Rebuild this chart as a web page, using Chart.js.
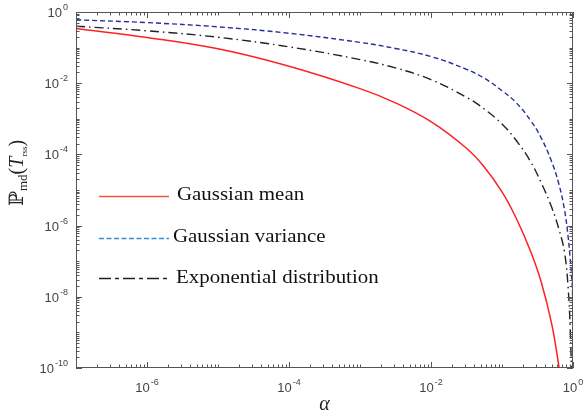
<!DOCTYPE html>
<html>
<head>
<meta charset="utf-8">
<script src="https://cdn.jsdelivr.net/npm/chart.js@4.4.1/dist/chart.umd.min.js"></script>
<style>
  body { margin: 0; background: #fff; }
  #wrap { width: 583px; height: 414px; }
</style>
</head>
<body>
<div id="wrap"><canvas id="chart"></canvas></div>
<script>
"use strict";

// data (alpha on x, P_md on y)
const alphaMean = [1e-7, 1e-6, 1e-5, 1e-4, 1e-3, 3.16e-3, 1e-2, 3.16e-2, 5.62e-2, 0.1, 0.158, 0.251, 0.355, 0.501, 0.631, 0.759];
const pMean = [0.344, 0.193, 0.0923, 0.0299, 7.05e-3, 2.81e-3, 8.32e-4, 1.49e-4, 4.45e-5, 8.87e-6, 1.64e-6, 1.97e-7, 2.69e-8, 1.73e-9, 1.14e-10, 7.1e-12];

const alphaVar = [1e-7, 1e-6, 1e-5, 1e-4, 1e-3, 3.16e-3, 1e-2, 3.16e-2, 5.62e-2, 0.1, 0.158, 0.251, 0.355, 0.501, 0.631, 0.759, 0.851, 0.912, 0.955, 0.983, 1];
const pVar = [0.604, 0.503, 0.383, 0.253, 0.14, 0.0946, 0.056, 0.0246, 0.0138, 6.15e-3, 2.85e-3, 9.16e-4, 2.95e-4, 6.24e-5, 1.5e-5, 2.78e-6, 5.16e-7, 1.24e-7, 3.87e-8, 1.37e-8, 4.6e-11];

const alphaExp = [1e-7, 1e-6, 1e-5, 1e-4, 1e-3, 3.16e-3, 1e-2, 3.16e-2, 5.62e-2, 0.1, 0.158, 0.251, 0.355, 0.501, 0.631, 0.759, 0.851, 0.912, 0.955];
const pExp = [0.399, 0.296, 0.195, 0.105, 0.0461, 0.0269, 0.0126, 4.01e-3, 1.89e-3, 7.11e-4, 2.49e-4, 6.44e-5, 1.63e-5, 3.27e-6, 8.13e-7, 1.8e-7, 2.0e-8, 1.4e-9, 6.35e-11];

const seriesNames = ['Gaussian mean', 'Gaussian variance', 'Exponential distribution'];

// labelled decades
const xTickExps = [-6, -4, -2, 0];
const yTickExps = [-10, -8, -6, -4, -2, 0];

const toPoints = (xs, ys) => xs.map((x, i) => ({ x: x, y: ys[i] }));

const SERIF = '"Liberation Serif", "Times New Roman", "DejaVu Serif", serif';
const SANS = '"Liberation Sans", Arial, sans-serif';

// draws "10" with a raised exponent
function powLabel(ctx, exp, x, y, align) {
  ctx.font = '13px ' + SANS;
  const wb = ctx.measureText('10').width;
  ctx.font = '9px ' + SANS;
  const e = String(exp);
  const we = ctx.measureText(e).width;
  const total = wb + we + 1;
  const x0 = align === 'right' ? x - total : x - total / 2;
  ctx.textAlign = 'left';
  ctx.textBaseline = 'alphabetic';
  ctx.font = '13px ' + SANS;
  ctx.fillText('10', x0, y);
  ctx.font = '9px ' + SANS;
  ctx.fillText(e, x0 + wb + 1, y - 7);
}

const axesPlugin = {
  id: 'matlabAxes',
  afterDraw(chart) {
    const ctx = chart.ctx;
    const a = chart.chartArea;
    const xs = chart.scales.x, ys = chart.scales.y;
    ctx.save();

    // box
    ctx.strokeStyle = '#555';
    ctx.lineWidth = 1;
    ctx.strokeRect(a.left + 0.5, a.top + 0.5, a.right - a.left - 1, a.bottom - a.top - 1);

    // ticks, inward on all four sides
    ctx.beginPath();
    for (let n = -7; n <= 0; n++) {
      for (let k = 1; k <= 9; k++) {
        const v = k * Math.pow(10, n);
        if (v > 1.0001) continue;
        const len = (k === 1 && xTickExps.includes(n)) ? 6 : 3.5;
        const px = Math.round(xs.getPixelForValue(v)) + 0.5;
        ctx.moveTo(px, a.bottom); ctx.lineTo(px, a.bottom - len);
        ctx.moveTo(px, a.top); ctx.lineTo(px, a.top + len);
      }
    }
    for (let n = -10; n <= 0; n++) {
      for (let k = 1; k <= 9; k++) {
        const v = k * Math.pow(10, n);
        if (v > 1.0001) continue;
        const len = (k === 1 && yTickExps.includes(n)) ? 6 : 3.5;
        const py = Math.round(ys.getPixelForValue(v)) + 0.5;
        ctx.moveTo(a.left, py); ctx.lineTo(a.left + len, py);
        ctx.moveTo(a.right, py); ctx.lineTo(a.right - len, py);
      }
    }
    ctx.stroke();

    // tick labels
    ctx.fillStyle = '#444';
    xTickExps.forEach(n => {
      powLabel(ctx, n, xs.getPixelForValue(Math.pow(10, n)), a.bottom + 24, 'center');
    });
    yTickExps.forEach(n => {
      powLabel(ctx, n, a.left - 8, ys.getPixelForValue(Math.pow(10, n)) + 5, 'right');
    });

    // x title
    ctx.fillStyle = '#222';
    ctx.font = 'italic 20px ' + SERIF;
    ctx.textAlign = 'center';
    ctx.fillText('\u03b1', (a.left + a.right) / 2, 410);

    // y title  P_md(T_rss)
    const parts = [
      { t: '\u2119', f: '20px ' + SERIF, dy: 0 },
      { t: 'md', f: '13px ' + SERIF, dy: 4 },
      { t: '(', f: '20px ' + SERIF, dy: 0 },
      { t: 'T', f: 'italic 20px ' + SERIF, dy: 0 },
      { t: 'rss', f: '9px ' + SERIF, dy: 4 },
      { t: ')', f: '20px ' + SERIF, dy: 0 }
    ];
    let total = 0;
    parts.forEach(p => { ctx.font = p.f; p.w = ctx.measureText(p.t).width; total += p.w; });
    ctx.translate(23, 173);
    ctx.rotate(-Math.PI / 2);
    ctx.textAlign = 'left';
    let cx = -total / 2;
    parts.forEach(p => { ctx.font = p.f; ctx.fillText(p.t, cx, p.dy); cx += p.w; });
    ctx.restore();

    // legend
    ctx.save();
    const rows = [
      { y: 196, color: '#f05a3c', dash: [], tx: 177, ty: 200 },
      { y: 238, color: '#3a8ed2', dash: [5, 2.5], tx: 173, ty: 242 },
      { y: 278, color: '#222', dash: [12, 4, 4, 4], tx: 176, ty: 283 }
    ];
    rows.forEach((r, i) => {
      ctx.strokeStyle = r.color;
      ctx.lineWidth = 1.3;
      ctx.setLineDash(r.dash);
      ctx.beginPath();
      ctx.moveTo(99, r.y + 0.5); ctx.lineTo(169, r.y + 0.5);
      ctx.stroke();
      ctx.save();
      ctx.translate(r.tx, r.ty);
      ctx.scale(1.1, 1);
      ctx.fillStyle = '#111';
      ctx.font = '19px ' + SERIF;
      ctx.textAlign = 'left';
      ctx.fillText(chart.data.datasets[i].label, 0, 0);
      ctx.restore();
    });
    ctx.restore();
  }
};

new Chart(document.getElementById('chart'), {
  type: 'line',
  data: {
    datasets: [
      {
        label: seriesNames[0],
        data: toPoints(alphaMean, pMean),
        borderColor: '#ff2020',
        borderWidth: 1.5
      },
      {
        label: seriesNames[1],
        data: toPoints(alphaVar, pVar),
        borderColor: '#26309a',
        borderWidth: 1.4,
        borderDash: [5, 3]
      },
      {
        label: seriesNames[2],
        data: toPoints(alphaExp, pExp),
        borderColor: '#222',
        borderWidth: 1.4,
        borderDash: [9, 4, 1.5, 4]
      }
    ]
  },
  options: {
    responsive: true,
    maintainAspectRatio: false,
    animation: false,
    layout: { padding: { left: 76, top: 12, right: 10, bottom: 46 } },
    elements: { point: { radius: 0 }, line: { tension: 0.4 } },
    datasets: { line: { clip: 0, fill: false } },
    scales: {
      x: { type: 'logarithmic', min: 1e-7, max: 1, display: false },
      y: { type: 'logarithmic', min: 1e-10, max: 1, display: false }
    },
    plugins: {
      legend: { display: false },
      tooltip: { enabled: false }
    }
  },
  plugins: [axesPlugin]
});
</script>
</body>
</html>
